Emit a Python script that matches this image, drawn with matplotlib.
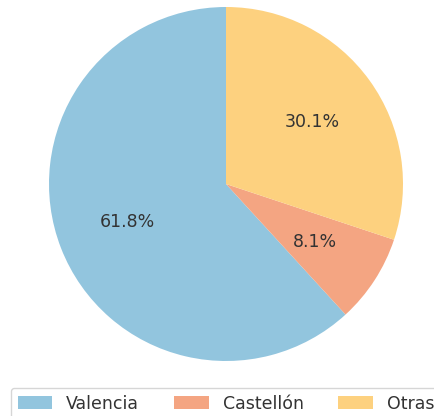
import matplotlib
matplotlib.use("Agg")
import matplotlib.pyplot as plt

labels = ["Valencia", "Castellón", "Otras"]
values = [61.8, 8.1, 30.1]
colors = ["#92c5de", "#f4a582", "#fdd17f"]

fig = plt.figure(figsize=(4.35, 4.16), dpi=100)
ax = fig.add_axes([49/435, 55/416, 354/435, 354/416])
wedges, texts, autotexts = ax.pie(values, colors=colors, startangle=90,
                                  autopct="%1.1f%%", pctdistance=0.6,
                                  textprops={"fontsize": 12.5, "color": "#333333"})
ax.set_xlim(-1, 1)
ax.set_ylim(-1, 1)
ax.set_aspect("auto")

leg = fig.legend(wedges, labels, loc="upper center", ncol=3,
                 bbox_to_anchor=(226/435, 1 - 379/416),
                 fontsize=12.5, frameon=True)
for t in leg.get_texts():
    t.set_color("#333333")

fig.savefig("out.png", dpi=100)
